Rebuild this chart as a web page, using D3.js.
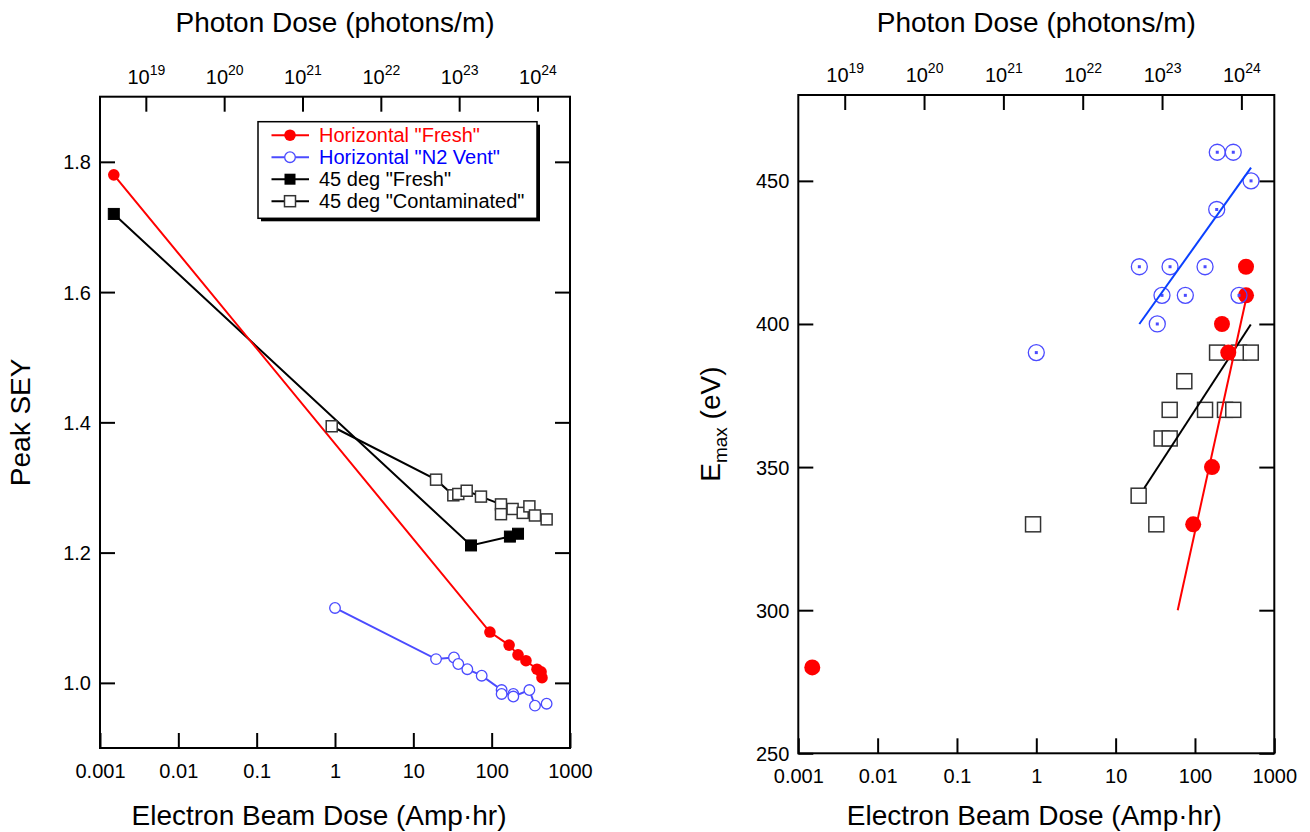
<!DOCTYPE html>
<html>
<head>
<meta charset="utf-8">
<script src="https://cdnjs.cloudflare.com/ajax/libs/d3/7.8.5/d3.min.js"></script>
<style>
  body { margin: 0; background: #fff; }
  svg text { font-family: "Liberation Sans", Arial, Helvetica, sans-serif; fill: #000; }
</style>
</head>
<body>
<div id="chart"></div>
<script>
// ---- left panel: peak SEY vs dose ----
var freshHorizDose = [0.0015, 95, 167, 217, 274, 379, 427, 439]
var freshHorizSey  = [1.78, 1.078, 1.058, 1.043, 1.034, 1.021, 1.017, 1.008]

var ventHorizDose = [1, 19.5, 33, 37.5, 48.9, 74.6, 134, 134, 189, 189, 303, 357, 503]
var ventHorizSey  = [1.115, 1.0365, 1.039, 1.029, 1.021, 1.011, 0.989, 0.983, 0.983, 0.979, 0.989, 0.965, 0.968]

var fresh45Dose = [0.0015, 54.5, 171, 217]
var fresh45Sey  = [1.72, 1.211, 1.2246, 1.229]

var cont45Dose = [0.908, 19.5, 32.4, 37.5, 48, 73, 131.5, 131.5, 185, 249, 303, 357, 503]
var cont45Sey  = [1.394, 1.312, 1.288, 1.290, 1.295, 1.286, 1.274, 1.259, 1.267, 1.261, 1.271, 1.257, 1.251]

// ---- right panel: Emax vs dose ----
var freshEmaxDose = [0.0015, 95, 164, 219, 263, 440, 440]
var freshEmax     = [280, 330, 350, 400, 390, 410, 420]

var ventEmaxDose = [1, 19.9, 33.5, 38.4, 48.5, 75.6, 134, 188, 191, 304, 359, 509]
var ventEmax     = [390, 420, 400, 410, 420, 410, 420, 440, 460, 460, 410, 450]

var contEmaxDose = [0.91, 19.5, 32.6, 38, 48, 48, 73.4, 134, 190, 239, 304, 359, 505]
var contEmax     = [330, 340, 330, 360, 360, 370, 380, 370, 390, 370, 370, 390, 390]

// straight fits drawn on the right panel (end points)
var freshFitDose = [60.6, 436]
var freshFitEmax = [300, 408.1]
var ventFitDose = [19.9, 509]
var ventFitEmax = [400, 454.6]
var contFitDose = [23, 505]
var contFitEmax = [342.7, 399.8]

// axes
var doseTicks = [0.001, 0.01, 0.1, 1, 10, 100, 1000]
var photonExponents = [19, 20, 21, 22, 23, 24]
var seyTicks = [1.0, 1.2, 1.4, 1.6, 1.8]
var emaxTicks = [250, 300, 350, 400, 450]
var photonsPerAmpHr = 2.6e21

var legendLabels = ['Horizontal "Fresh"', 'Horizontal "N2 Vent"', '45 deg "Fresh"', '45 deg "Contaminated"']

var red = "#ff0000"
var blueMark = "#4b4bff"
var blueFit = "#0a40ff"

var svg = d3.select("#chart").append("svg")
  .attr("width", 1310)
  .attr("height", 832)

function makePanel(dims, yDomain, yTicks, yFormat, yTitle) {
  var g = svg.append("g")
    .attr("transform", `translate(${dims.left},${dims.top})`)

  var xScale = d3.scaleLog().domain([0.001, 1000]).range([0, dims.width])
  var pScale = d3.scaleLog()
    .domain([0.001 * photonsPerAmpHr, 1000 * photonsPerAmpHr])
    .range([0, dims.width])
  var yScale = d3.scaleLinear().domain(yDomain).range([dims.height, 0])

  var bottom = g.append("g")
    .attr("transform", `translate(0,${dims.height})`)
    .call(d3.axisBottom(xScale).tickValues(doseTicks).tickSizeInner(-15).tickSizeOuter(0)
      .tickFormat(d3.format("~g")))
  bottom.selectAll("text").attr("y", 30).attr("dy", 0).style("font-size", "20px")

  var top = g.append("g")
    .call(d3.axisTop(pScale).tickValues(photonExponents.map(e => Math.pow(10, e)))
      .tickSizeInner(-15).tickSizeOuter(0))
  top.selectAll("text").each(function(d, i) {
    var t = d3.select(this).text("").attr("y", -13).attr("dy", 0).style("font-size", "20px")
    t.append("tspan").text("10")
    t.append("tspan").text(photonExponents[i]).attr("dy", -9).style("font-size", "14px")
  })

  var left = g.append("g")
    .call(d3.axisLeft(yScale).tickValues(yTicks).tickSizeInner(-15).tickSizeOuter(0)
      .tickFormat(d3.format(yFormat)))
  left.selectAll("text").attr("x", -9).attr("dy", "0.35em").style("font-size", "20px")

  var right = g.append("g")
    .attr("transform", `translate(${dims.width},0)`)
    .call(d3.axisRight(yScale).tickValues(yTicks).tickSizeInner(-15).tickSizeOuter(0)
      .tickFormat(""))

  g.selectAll(".domain").remove()
  g.selectAll(".tick line").attr("stroke", "#000").attr("stroke-width", 2)

  g.append("rect")
    .attr("width", dims.width)
    .attr("height", dims.height)
    .attr("fill", "none")
    .attr("stroke", "#000")
    .attr("stroke-width", 2)

  g.append("text")
    .attr("x", dims.width / 2 + dims.xTitleShift)
    .attr("y", 825 - dims.top)
    .attr("text-anchor", "middle")
    .style("font-size", "28px")
    .text("Electron Beam Dose (Amp\u00b7hr)")

  g.append("text")
    .attr("x", dims.width / 2)
    .attr("y", 32 - dims.top)
    .attr("text-anchor", "middle")
    .style("font-size", "28px")
    .text("Photon Dose (photons/m)")

  var yt = g.append("text")
    .attr("transform", `translate(${yTitle.x},${dims.height / 2}) rotate(-90)`)
    .attr("text-anchor", "middle")
    .style("font-size", "28px")
  yTitle.build(yt)

  return { g: g, x: xScale, y: yScale }
}

function pairs(xs, ys) { return d3.zip(xs, ys) }

function drawLine(p, xs, ys, color, width) {
  p.g.append("path")
    .datum(pairs(xs, ys))
    .attr("fill", "none")
    .attr("stroke", color)
    .attr("stroke-width", width)
    .attr("d", d3.line().x(d => p.x(d[0])).y(d => p.y(d[1])))
}

function drawCircles(p, xs, ys, r, fill, stroke, sw) {
  p.g.append("g").selectAll("circle")
    .data(pairs(xs, ys)).enter()
    .append("circle")
    .attr("cx", d => p.x(d[0]))
    .attr("cy", d => p.y(d[1]))
    .attr("r", r)
    .attr("fill", fill)
    .attr("stroke", stroke)
    .attr("stroke-width", sw)
}

function drawSquares(p, xs, ys, s, fill, stroke, sw) {
  p.g.append("g").selectAll("rect")
    .data(pairs(xs, ys)).enter()
    .append("rect")
    .attr("x", d => p.x(d[0]) - s / 2)
    .attr("y", d => p.y(d[1]) - s / 2)
    .attr("width", s)
    .attr("height", s)
    .attr("fill", fill)
    .attr("stroke", stroke)
    .attr("stroke-width", sw)
}

// ---------------- left panel ----------------
var leftPanel = makePanel(
  { left: 100, top: 96.7, width: 470, height: 651.3, xTitleShift: -16 },
  [0.9, 1.9], seyTicks, ".1f",
  { x: -70, build: t => t.text("Peak SEY") }
)

drawLine(leftPanel, cont45Dose, cont45Sey, "#000", 2)
drawLine(leftPanel, fresh45Dose, fresh45Sey, "#000", 2)
drawLine(leftPanel, freshHorizDose, freshHorizSey, red, 2)
drawLine(leftPanel, ventHorizDose, ventHorizSey, blueMark, 2)
drawSquares(leftPanel, cont45Dose, cont45Sey, 11, "#fff", "#333", 1.5)
drawSquares(leftPanel, fresh45Dose, fresh45Sey, 11, "#000", "#000", 1)
drawCircles(leftPanel, ventHorizDose, ventHorizSey, 5.3, "#fff", blueMark, 1.3)
drawCircles(leftPanel, freshHorizDose, freshHorizSey, 5.8, red, "none", 0)

// legend
var legend = svg.append("g").attr("transform", "translate(258,121.7)")
legend.append("rect").attr("x", 3).attr("y", 3).attr("width", 279).attr("height", 96.6).attr("fill", "#000")
legend.append("rect").attr("width", 279).attr("height", 96.6).attr("fill", "#fff").attr("stroke", "#000").attr("stroke-width", 1.5)
var legendColors = [red, "#0000ff", "#000", "#000"]
var legendLine = [red, blueMark, "#000", "#000"]
legendLabels.forEach(function(label, i) {
  var cy = 13.5 + i * 22
  var row = legend.append("g").attr("transform", `translate(0,${cy})`)
  row.append("line").attr("x1", 13.5).attr("x2", 51).attr("stroke", legendLine[i]).attr("stroke-width", 2)
  if (i === 0) row.append("circle").attr("cx", 32).attr("r", 5.8).attr("fill", red)
  if (i === 1) row.append("circle").attr("cx", 32).attr("r", 5.3).attr("fill", "#fff").attr("stroke", blueMark).attr("stroke-width", 1.3)
  if (i === 2) row.append("rect").attr("x", 26.5).attr("y", -5.5).attr("width", 11).attr("height", 11).attr("fill", "#000")
  if (i === 3) row.append("rect").attr("x", 26.5).attr("y", -5.5).attr("width", 11).attr("height", 11).attr("fill", "#fff").attr("stroke", "#333").attr("stroke-width", 1.5)
  row.append("text").attr("x", 61).attr("dy", "0.35em").style("font-size", "20px")
    .style("fill", legendColors[i]).text(label)
})

// ---------------- right panel ----------------
var rightPanel = makePanel(
  { left: 798.3, top: 95, width: 476, height: 658.3, xTitleShift: -2 },
  [250, 480], emaxTicks, "d",
  { x: -78, build: function(t) {
      t.append("tspan").text("E")
      t.append("tspan").text("max").attr("dy", 7).style("font-size", "19px")
      t.append("tspan").text(" (eV)").attr("dy", -7)
    } }
)

drawSquares(rightPanel, contEmaxDose, contEmax, 15, "#fff", "#333", 1.5)
drawLine(rightPanel, contFitDose, contFitEmax, "#000", 2)
drawCircles(rightPanel, freshEmaxDose, freshEmax, 8, red, "none", 0)
drawLine(rightPanel, freshFitDose, freshFitEmax, red, 2)
drawCircles(rightPanel, ventEmaxDose, ventEmax, 8, "none", blueMark, 1.3)
drawSquares(rightPanel, ventEmaxDose, ventEmax, 3, blueMark, "none", 0)
drawLine(rightPanel, ventFitDose, ventFitEmax, blueFit, 2)
</script>
</body>
</html>
